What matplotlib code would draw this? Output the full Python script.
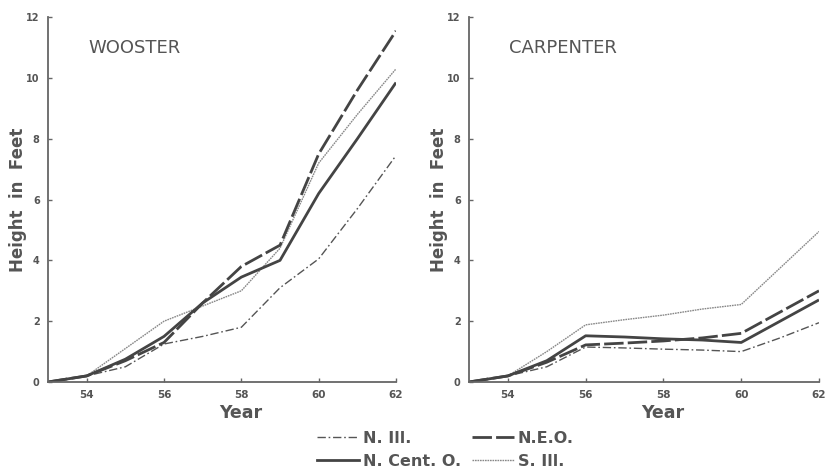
import matplotlib
matplotlib.use("Agg")
import matplotlib.pyplot as plt
from matplotlib.lines import Line2D

years = [53, 54, 55, 56, 57, 58, 59, 60, 61, 62]

# Wooster
w_nill = [0, 0.2, 0.5, 1.25, 1.5, 1.8, 3.1, 4.05, 5.7, 7.45]
w_neo = [0, 0.2, 0.7, 1.3, 2.6, 3.8, 4.5, 7.5, 9.6, 11.55]
w_ncent = [0, 0.2, 0.75, 1.5, 2.6, 3.45, 4.0, 6.2, 8.0, 9.85]
w_sill = [0, 0.2, 1.1, 2.0, 2.5, 3.0, 4.4, 7.2, 8.8, 10.3]

# Carpenter
c_nill = [0, 0.2, 0.5, 1.15, 1.12, 1.08, 1.05, 1.0, 1.45, 1.95]
c_neo = [0, 0.2, 0.65, 1.22, 1.28, 1.35, 1.45, 1.6, 2.3, 3.0]
c_ncent = [0, 0.2, 0.7, 1.52, 1.48, 1.42, 1.38, 1.3, 2.0, 2.7]
c_sill = [0, 0.2, 1.0, 1.88, 2.05, 2.2, 2.4, 2.55, 3.75, 4.95]

xticks = [54, 56, 58, 60, 62]
yticks = [0, 2, 4, 6, 8, 10, 12]
labels = ["N. Ill.", "N.E.O.", "N. Cent. O.", "S. Ill."]

TXT = "#555555"
styles = {
    "N. Ill.": dict(color="#555555", lw=1.0, dashes=(6, 2, 1.2, 2)),
    "N.E.O.": dict(color="#444444", lw=2.0, dashes=(7, 1.5)),
    "N. Cent. O.": dict(color="#444444", lw=2.0, linestyle="-"),
    "S. Ill.": dict(color="#888888", lw=1.0, dashes=(1.2, 0.6)),
}

fig = plt.figure(figsize=(8.25, 4.75), dpi=100)
ax1 = fig.add_axes([0.0582, 0.1958, 0.4218, 0.768])
ax2 = fig.add_axes([0.5685, 0.1958, 0.4242, 0.768])

for ax, title, series in [
    (ax1, "WOOSTER", [w_nill, w_neo, w_ncent, w_sill]),
    (ax2, "CARPENTER", [c_nill, c_neo, c_ncent, c_sill]),
]:
    order = [3, 0, 1, 2]
    for i in order:
        ax.plot(years, series[i], **styles[labels[i]], solid_capstyle="butt")
    ax.set_xlim(53, 62)
    ax.set_ylim(0, 12)
    ax.set_xticks(xticks)
    ax.set_yticks(yticks)
    ax.set_xticklabels([str(t) for t in xticks], fontsize=7.5, fontweight="bold", color=TXT)
    ax.set_yticklabels([str(t) for t in yticks], fontsize=7, fontweight="bold", color=TXT)
    ax.tick_params(direction="in", length=3, width=1, color="#666666")
    ax.tick_params(axis="y", pad=6)
    ax.tick_params(axis="x", pad=6)
    for s in ["top", "right"]:
        ax.spines[s].set_visible(False)
    for s in ["left", "bottom"]:
        ax.spines[s].set_color("#666666")
        ax.spines[s].set_linewidth(1.3)
    ax.set_xlabel("Year", fontsize=12.5, fontweight="bold", color=TXT)
    ax.set_ylabel("Height  in  Feet", fontsize=12, fontweight="bold", color=TXT)
    w_px = ax.get_position().width * 825
    ax.yaxis.set_label_coords(-21.0 / w_px, 0.5)
    ax.xaxis.set_label_coords(0.553, -0.085)
    ax.xaxis.label.set_va("center")
    ax.text(0.115, 0.915, title, transform=ax.transAxes, fontsize=13, color=TXT,
            ha="left", va="center")
    ax.patch.set_alpha(0)

handles = [Line2D([0], [0], **styles[l]) for l in ["N. Ill.", "N. Cent. O.", "N.E.O.", "S. Ill."]]
leg = fig.legend(handles, ["N. Ill.", "N. Cent. O.", "N.E.O.", "S. Ill."], ncol=2,
                 loc="center", bbox_to_anchor=(0.54, 0.053), frameon=False,
                 prop=dict(size=11.5, weight="bold"), handlelength=2.6, handletextpad=0.25,
                 columnspacing=0.7, labelspacing=0.5, labelcolor=TXT)

fig.savefig("out.png", dpi=100)
